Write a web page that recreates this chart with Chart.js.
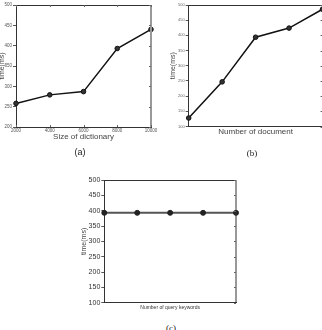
<!DOCTYPE html>
<html><head><meta charset="utf-8">
<script src="https://cdn.jsdelivr.net/npm/chart.js@4/dist/chart.umd.min.js"></script>
<style>
html,body{margin:0;padding:0;background:#fff;width:322px;height:330px;overflow:hidden;position:relative;}
canvas{position:absolute;}
.cap{position:absolute;font-size:9px;color:#222;transform:translate(-50%,-50%);white-space:nowrap;}
</style></head><body>
<canvas id="ca" width="160" height="150" style="left:0;top:0"></canvas>
<canvas id="cb" width="170" height="150" style="left:161px;top:0"></canvas>
<canvas id="cc" width="200" height="150" style="left:50px;top:170px"></canvas>
<div class="cap" style="left:80px;top:152px;font-family:'Liberation Sans',Arial,sans-serif">(a)</div>
<div class="cap" style="left:252px;top:153px;font-family:'Liberation Serif','Times New Roman',serif">(b)</div>
<div class="cap" style="left:171px;top:328px;font-family:'Liberation Serif','Times New Roman',serif">(c)</div>
<script>
// ---- data ----
const dictSizes = [2000, 4000, 6000, 8000, 10000];
const timeA = [258, 279, 287, 393, 440];
const docLabels = ['1', '2', '3', '4', '5'];
const timeB = [128, 247, 394, 424, 486];
const keywordLabels = ['1', '2', '3', '4', '5'];
const timeC = [393, 393, 393, 393, 393];
const yTicksA = {min: 200, max: 500, step: 50};
const yTicksBC = {min: 100, max: 500, step: 50};

const SANS = "'Liberation Sans', Arial, sans-serif";
const frame = {
  id: 'frame',
  afterDraw(chart, args, o) {
    const {ctx, chartArea: a, scales} = chart;
    ctx.save();
    ctx.strokeStyle = '#333'; ctx.lineWidth = 1;
    ctx.beginPath();
    ctx.moveTo(a.left, a.top + 0.5); ctx.lineTo(a.right, a.top + 0.5);
    ctx.stroke();
    ctx.strokeStyle = o.rightColor || '#333'; ctx.lineWidth = o.rightWidth || 1;
    ctx.beginPath();
    ctx.moveTo(a.right, a.top); ctx.lineTo(a.right, a.bottom);
    ctx.stroke();
    ctx.strokeStyle = '#666'; ctx.lineWidth = 1;
    ctx.beginPath();
    if (o.xTicks) {
      scales.x.ticks.forEach((t, i) => {
        const p = Math.round(scales.x.getPixelForTick(i)) + 0.5;
        ctx.moveTo(p, a.top); ctx.lineTo(p, a.top + 2);
        ctx.moveTo(p, a.bottom); ctx.lineTo(p, a.bottom - 2);
      });
    }
    scales.y.ticks.forEach((t, i) => {
      const p = Math.round(scales.y.getPixelForTick(i)) + 0.5;
      ctx.moveTo(a.right - 2, p); ctx.lineTo(a.right, p);
    });
    ctx.stroke();
    ctx.restore();
  }
};

function yScale(r, width, fontSize, titlePad, tickColor) {
  return {
    min: r.min, max: r.max,
    afterFit: s => { s.width = width; },
    ticks: {stepSize: r.step, font: {family: SANS, size: fontSize}, color: tickColor, padding: 1, callback: v => String(v)},
    grid: {drawOnChartArea: false, drawTicks: true, tickLength: 3, color: '#555'},
    border: {color: '#333', width: 1},
    title: {display: true, text: 'time(ms)', color: '#444', font: {family: SANS, size: 7}, padding: {top: titlePad, bottom: 0}}
  };
}

function base(datasets, scales, padding, frameOpts) {
  return {
    type: 'line',
    data: datasets,
    options: {
      responsive: false, animation: false, devicePixelRatio: 1,
      layout: {padding},
      plugins: {legend: {display: false}, tooltip: {enabled: false}, frame: frameOpts},
      scales
    },
    plugins: [frame]
  };
}

// (a)
new Chart(document.getElementById('ca'), base(
  {datasets: [{data: dictSizes.map((x, i) => ({x, y: timeA[i]})), borderColor: '#111', borderWidth: 1.5,
    pointRadius: 2.3, pointBackgroundColor: '#333', pointBorderColor: '#111', pointBorderWidth: 1, clip: false}]},
  {
    x: {type: 'linear', min: 2000, max: 10000,
      afterFit: s => { s.height = 23; },
      ticks: {stepSize: 2000, font: {family: SANS, size: 4.5}, color: '#555', padding: 1, maxRotation: 0, autoSkip: false, callback: v => String(v)},
      grid: {drawOnChartArea: false, drawTicks: false},
      border: {color: '#333', width: 1},
      title: {display: true, text: 'Size of dictionary', color: '#444', font: {family: SANS, size: 8}, padding: {top: 0, bottom: 8}}
    },
    y: yScale(yTicksA, 16, 4.5, -2, '#555')
  },
  {top: 5, right: 9, left: 0, bottom: 0},
  {xTicks: true, rightColor: '#999', rightWidth: 2}
));

// (b)
new Chart(document.getElementById('cb'), base(
  {labels: docLabels, datasets: [{data: timeB, borderColor: '#111', borderWidth: 1.5,
    pointRadius: 2.3, pointBackgroundColor: '#333', pointBorderColor: '#111', pointBorderWidth: 1, clip: false}]},
  {
    x: {type: 'category', offset: false,
      afterFit: s => { s.height = 23.5; },
      ticks: {display: false},
      grid: {drawOnChartArea: false, drawTicks: false},
      border: {color: '#333', width: 1},
      title: {display: true, text: 'Number of document', color: '#444', font: {family: SANS, size: 8}, padding: {top: 0, bottom: 13.7}}
    },
    y: yScale(yTicksBC, 27.7, 4, 7.5, '#666')
  },
  {top: 5, right: 8.5, left: 0, bottom: 0},
  {xTicks: false}
));

// (c)
new Chart(document.getElementById('cc'), base(
  {labels: keywordLabels, datasets: [{data: timeC, borderColor: '#555', borderWidth: 2,
    pointRadius: 2.5, pointBackgroundColor: '#222', pointBorderColor: '#222', pointBorderWidth: 1, clip: false}]},
  {
    x: {type: 'category', offset: false,
      afterFit: s => { s.height = 17.3; },
      ticks: {display: false},
      grid: {drawOnChartArea: false, drawTicks: false},
      border: {color: '#333', width: 1},
      title: {display: true, text: 'Number of query keywords', color: '#333', font: {family: SANS, size: 5}, padding: {top: 0, bottom: 9.7}}
    },
    y: yScale(yTicksBC, 54.3, 7, 29.8, '#333')
  },
  {top: 10, right: 14, left: 0, bottom: 0},
  {xTicks: false}
));
</script>
</body></html>
